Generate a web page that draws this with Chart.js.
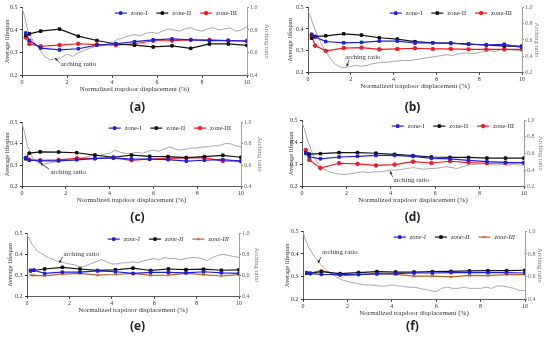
<!DOCTYPE html>
<html>
<head>
<meta charset="utf-8">
<script src="https://cdn.jsdelivr.net/npm/chart.js@4.4.0/dist/chart.umd.min.js"></script>
<style>
  html, body { margin: 0; padding: 0; background: #fff; }
  #wrap { position: relative; width: 550px; height: 340px; overflow: hidden; background: #fff; }
  #wrap canvas { position: absolute; }
</style>
</head>
<body>
<div id="wrap"></div>
<script>
// x positions of the zone markers and of the arching ratio trace
const xPts = [0.17, 0.33, 0.83, 1.67, 2.5, 3.33, 4.17, 5, 5.83, 6.67, 7.5, 8.33, 9.17, 10];
const archX = [0, 0.1, 0.25, 0.5, 0.75, 1, 1.25, 1.5, 1.75, 2, 2.25, 2.5, 2.75, 3, 3.25, 3.5, 3.75, 4, 4.25, 4.5, 4.75,
  5, 5.25, 5.5, 5.75, 6, 6.25, 6.5, 6.75, 7, 7.25, 7.5, 7.75, 8, 8.25, 8.5, 8.75, 9, 9.25, 9.5, 9.75, 10];

const zoneNames = ['zone-I', 'zone-II', 'zone-III'];
const panelLetters = ['(a)', '(b)', '(c)', '(d)', '(e)', '(f)'];
const xTitle = 'Normalized trapdoor displacement (%)';
const yTitle = 'Average lifespan';
const y2Title = 'Arching ratio';

// (a)
const a1 = [0.387, 0.354, 0.321, 0.313, 0.318, 0.334, 0.340, 0.349, 0.357, 0.361, 0.357, 0.354, 0.354, 0.351];
const a2 = [0.376, 0.383, 0.395, 0.404, 0.373, 0.354, 0.339, 0.334, 0.326, 0.331, 0.320, 0.339, 0.339, 0.333];
const a3 = [0.367, 0.339, 0.329, 0.334, 0.340, 0.336, 0.334, 0.340, 0.353, 0.354, 0.357, 0.357, 0.354, 0.353];
const aArch = [0.99, 0.93, 0.80, 0.70, 0.64, 0.57, 0.54, 0.55, 0.56, 0.59, 0.57, 0.60, 0.62, 0.64, 0.655, 0.66, 0.67, 0.69, 0.72, 0.73, 0.75,
  0.76, 0.75, 0.77, 0.78, 0.77, 0.79, 0.81, 0.80, 0.79, 0.81, 0.82, 0.80, 0.79, 0.81, 0.82, 0.80, 0.81, 0.82, 0.79, 0.80, 0.83];

// (b)
const b1 = [0.376, 0.364, 0.343, 0.337, 0.339, 0.345, 0.345, 0.336, 0.337, 0.334, 0.331, 0.327, 0.330, 0.316];
const b2 = [0.358, 0.366, 0.369, 0.378, 0.372, 0.360, 0.354, 0.342, 0.337, 0.336, 0.331, 0.327, 0.322, 0.322];
const b3 = [0.370, 0.324, 0.300, 0.313, 0.315, 0.307, 0.309, 0.312, 0.309, 0.309, 0.307, 0.307, 0.307, 0.307];
const bArch = [0.95, 0.90, 0.78, 0.62, 0.49, 0.39, 0.31, 0.27, 0.26, 0.28, 0.29, 0.28, 0.29, 0.31, 0.32, 0.33, 0.33, 0.34, 0.345, 0.35, 0.35,
  0.36, 0.37, 0.38, 0.39, 0.40, 0.41, 0.42, 0.41, 0.43, 0.44, 0.44, 0.43, 0.45, 0.46, 0.47, 0.46, 0.48, 0.48, 0.48, 0.47, 0.47];

// (c)
const c1 = [0.334, 0.323, 0.320, 0.320, 0.325, 0.331, 0.334, 0.329, 0.328, 0.326, 0.319, 0.323, 0.326, 0.319];
const c2 = [0.330, 0.356, 0.362, 0.361, 0.358, 0.347, 0.337, 0.347, 0.341, 0.340, 0.335, 0.340, 0.346, 0.337];
const c3 = [0.334, 0.326, 0.323, 0.325, 0.332, 0.332, 0.334, 0.323, 0.329, 0.332, 0.334, 0.334, 0.320, 0.319];
const cArch = [0.99, 0.92, 0.78, 0.66, 0.62, 0.61, 0.62, 0.63, 0.64, 0.65, 0.64, 0.65, 0.67, 0.68, 0.69, 0.69, 0.70, 0.71, 0.74, 0.72, 0.71,
  0.71, 0.72, 0.71, 0.73, 0.74, 0.73, 0.75, 0.77, 0.75, 0.74, 0.75, 0.76, 0.76, 0.77, 0.77, 0.78, 0.78, 0.80, 0.80, 0.78, 0.77];

// (d)
const d1 = [0.350, 0.335, 0.326, 0.334, 0.337, 0.341, 0.341, 0.337, 0.328, 0.326, 0.319, 0.313, 0.310, 0.309];
const d2 = [0.353, 0.347, 0.349, 0.354, 0.354, 0.351, 0.346, 0.340, 0.334, 0.332, 0.332, 0.329, 0.329, 0.329];
const d3 = [0.365, 0.321, 0.284, 0.306, 0.303, 0.296, 0.300, 0.313, 0.307, 0.315, 0.309, 0.306, 0.307, 0.307];
const dArch = [0.97, 0.90, 0.76, 0.58, 0.47, 0.41, 0.38, 0.36, 0.35, 0.35, 0.36, 0.37, 0.38, 0.37, 0.38, 0.38, 0.39, 0.40, 0.40, 0.41, 0.42,
  0.43, 0.42, 0.41, 0.42, 0.42, 0.43, 0.44, 0.43, 0.42, 0.44, 0.46, 0.47, 0.47, 0.48, 0.47, 0.46, 0.47, 0.46, 0.47, 0.46, 0.46];

// (e)
const e1 = [0.325, 0.325, 0.310, 0.316, 0.316, 0.322, 0.318, 0.310, 0.315, 0.315, 0.313, 0.318, 0.313, 0.310];
const e2 = [0.322, 0.325, 0.331, 0.339, 0.331, 0.324, 0.327, 0.335, 0.324, 0.331, 0.328, 0.330, 0.325, 0.327];
const e3 = [0.302, 0.301, 0.299, 0.307, 0.310, 0.302, 0.305, 0.310, 0.301, 0.302, 0.310, 0.304, 0.298, 0.304];
const eArch = [0.99, 0.95, 0.89, 0.83, 0.80, 0.77, 0.75, 0.73, 0.72, 0.71, 0.70, 0.68, 0.69, 0.71, 0.73, 0.75, 0.73, 0.71, 0.71, 0.72, 0.72,
  0.73, 0.72, 0.74, 0.75, 0.76, 0.75, 0.77, 0.76, 0.76, 0.75, 0.76, 0.77, 0.77, 0.76, 0.74, 0.77, 0.79, 0.80, 0.79, 0.78, 0.77];

// (f)
const f1 = [0.317, 0.314, 0.311, 0.310, 0.310, 0.313, 0.314, 0.317, 0.317, 0.319, 0.319, 0.319, 0.319, 0.317];
const f2 = [0.317, 0.316, 0.323, 0.314, 0.319, 0.323, 0.321, 0.321, 0.323, 0.324, 0.326, 0.327, 0.327, 0.329];
const f3 = [0.314, 0.317, 0.329, 0.304, 0.311, 0.314, 0.311, 0.303, 0.303, 0.300, 0.307, 0.306, 0.310, 0.310];
const fArch = [0.99, 0.93, 0.86, 0.78, 0.72, 0.67, 0.63, 0.60, 0.575, 0.56, 0.55, 0.54, 0.53, 0.53, 0.525, 0.52, 0.52, 0.53, 0.52, 0.52, 0.51,
  0.51, 0.50, 0.49, 0.48, 0.47, 0.50, 0.51, 0.50, 0.50, 0.51, 0.50, 0.50, 0.50, 0.51, 0.50, 0.52, 0.52, 0.51, 0.50, 0.48, 0.48];

const serif = '"Liberation Serif", "Times New Roman", serif';
const red = '#ee1c24', brown = '#b8622a';

// layout of each panel (page pixels) and where the "arching ratio" note sits (data units)
const panels = [
  { data: [a1, a2, a3, aArch], x0: 0,   plot: { l: 22,  r: 247, t: 6,   b: 76 },  labelY: 108, ytx: 7,  rtx: 8,  rMin: 0.4, c3: red,   m3: 'circle', italic: false,
    note: { tx: 1.72, ty: 0.249, fx: 1.68, fy: 0.256, px: 1.47, py: 0.277 } },
  { data: [b1, b2, b3, bArch], x0: 275, plot: { l: 308, r: 522, t: 6,   b: 73 },  labelY: 108, ytx: 15, rtx: 13, rMin: 0.2, c3: red,   m3: 'circle', italic: false,
    note: { tx: 1.73, ty: 0.272, fx: 1.92, fy: 0.258, px: 1.81, py: 0.229 } },
  { data: [c1, c2, c3, cArch], x0: 0,   plot: { l: 22,  r: 241, t: 121, b: 187 }, labelY: 218, ytx: 7,  rtx: 15, rMin: 0.4, c3: red,   m3: 'circle', italic: false,
    note: { tx: 1.30, ty: 0.270, fx: 1.24, fy: 0.282, px: 0.84, py: 0.309 } },
  { data: [d1, d2, d3, dArch], x0: 275, plot: { l: 302, r: 524, t: 119, b: 187 }, labelY: 218, ytx: 16, rtx: 9,  rMin: 0.2, c3: red,   m3: 'circle', italic: false,
    note: { tx: 4.12, ty: 0.232, fx: 4.08, fy: 0.245, px: 3.97, py: 0.270 } },
  { data: [e1, e2, e3, eArch], x0: 0,   plot: { l: 27,  r: 239, t: 232, b: 297 }, labelY: 327, ytx: 10, rtx: 18, rMin: 0.4, c3: brown, m3: 'crossRot', italic: true,
    note: { tx: 1.72, ty: 0.403, fx: 1.68, fy: 0.388, px: 1.53, py: 0.359 } },
  { data: [f1, f2, f3, fArch], x0: 275, plot: { l: 303, r: 525, t: 230, b: 300 }, labelY: 327, ytx: 12, rtx: 10, rMin: 0.4, c3: brown, m3: 'crossRot', italic: true,
    note: { tx: 0.86, ty: 0.406, fx: 0.80, fy: 0.386, px: 0.68, py: 0.360 } }
];

const toPoints = (xs, ys) => xs.map((x, i) => ({ x: x, y: ys[i] }));

function drawMark(ctx, style, x, y, color) {
  ctx.fillStyle = color;
  ctx.strokeStyle = color;
  ctx.lineWidth = 1;
  if (Chart.helpers && Chart.helpers.drawPoint) {
    Chart.helpers.drawPoint(ctx, { pointStyle: style, radius: 1.8, rotation: 0, borderWidth: 1 }, x, y);
  } else {
    ctx.fillRect(x - 1.6, y - 1.6, 3.2, 3.2);
  }
}

// legend drawn inside the plot, top right
const zoneLegend = {
  id: 'zoneLegend',
  afterDraw(chart, args, opts) {
    const { ctx, chartArea } = chart;
    const items = chart.data.datasets.slice(0, 3);
    ctx.save();
    ctx.font = (opts.italic ? 'italic ' : '') + '6.5px ' + serif;
    const widths = items.map(d => 16 + ctx.measureText(d.label).width);
    const total = widths.reduce((s, w) => s + w, 0) + 9 * (items.length - 1);
    let x = chartArea.right - 10 - total;
    const y = chartArea.top + 6;
    items.forEach((d, i) => {
      ctx.strokeStyle = d.borderColor;
      ctx.lineWidth = 1.2;
      ctx.beginPath();
      ctx.moveTo(x, y);
      ctx.lineTo(x + 12, y);
      ctx.stroke();
      drawMark(ctx, d.pointStyle, x + 6, y, d.borderColor);
      ctx.fillStyle = '#333';
      ctx.textBaseline = 'middle';
      ctx.textAlign = 'left';
      ctx.fillText(d.label, x + 16, y + 0.5);
      x += widths[i] + 9;
    });
    ctx.restore();
  }
};

// "arching ratio" label with a small arrow onto the grey trace
const archNote = {
  id: 'archNote',
  afterDraw(chart, args, o) {
    const { ctx, scales } = chart;
    const X = v => scales.x.getPixelForValue(v);
    const Y = v => scales.y.getPixelForValue(v);
    ctx.save();
    ctx.font = '7px ' + serif;
    ctx.fillStyle = '#333';
    ctx.textBaseline = 'middle';
    ctx.fillText('arching ratio', X(o.tx), Y(o.ty));
    const x1 = X(o.fx), y1 = Y(o.fy), x2 = X(o.px), y2 = Y(o.py);
    ctx.strokeStyle = '#222';
    ctx.lineWidth = 0.8;
    ctx.beginPath();
    ctx.moveTo(x1, y1);
    ctx.lineTo(x2, y2);
    ctx.stroke();
    const ang = Math.atan2(y2 - y1, x2 - x1);
    ctx.beginPath();
    ctx.moveTo(x2, y2);
    ctx.lineTo(x2 - 3 * Math.cos(ang - 0.45), y2 - 3 * Math.sin(ang - 0.45));
    ctx.lineTo(x2 - 3 * Math.cos(ang + 0.45), y2 - 3 * Math.sin(ang + 0.45));
    ctx.closePath();
    ctx.fillStyle = '#222';
    ctx.fill();
    ctx.restore();
  }
};

const wrap = document.getElementById('wrap');

panels.forEach((p, k) => {
  const cv = document.createElement('canvas');
  const top = p.plot.t - 5;
  const h = Math.round(p.labelY + 8.2 - top);
  cv.width = 275;
  cv.height = h;
  cv.style.left = p.x0 + 'px';
  cv.style.top = top + 'px';
  cv.style.width = '275px';
  cv.style.height = h + 'px';
  wrap.appendChild(cv);

  const titlePad = p.labelY - 7.2 - (p.plot.b + 18);
  const leftW = p.plot.l - p.x0;
  const rightW = p.x0 + 275 - p.plot.r;
  const colors = ['#1f1fd6', '#111111', p.c3];
  const marks = ['rect', 'rect', p.m3];

  const datasets = zoneNames.map((name, i) => ({
    label: name,
    data: toPoints(xPts, p.data[i]),
    yAxisID: 'y',
    borderColor: colors[i],
    backgroundColor: colors[i],
    borderWidth: 1.2,
    pointStyle: marks[i],
    pointRadius: 1.8,
    pointBorderWidth: 1,
    tension: 0
  }));
  datasets.push({
    label: 'arching ratio',
    data: toPoints(archX, p.data[3]),
    yAxisID: 'y2',
    borderColor: '#a9a9a9',
    borderWidth: 1,
    pointRadius: 0,
    tension: 0
  });

  new Chart(cv, {
    type: 'line',
    data: { datasets: datasets },
    options: {
      responsive: false,
      animation: false,
      devicePixelRatio: 1,
      layout: { padding: { top: 5, left: 0, right: 0, bottom: 0 } },
      scales: {
        x: {
          type: 'linear', min: 0, max: 10,
          ticks: { stepSize: 2, font: { family: serif, size: 6 }, color: '#333', padding: 1, maxRotation: 0 },
          grid: { drawOnChartArea: false, tickLength: 2, color: '#333' },
          border: { color: '#333', width: 0.8 },
          title: { display: true, text: xTitle, font: { family: serif, size: 7 }, color: '#333', padding: { top: 0, bottom: 0 } },
          afterFit: s => { s.height = 18; }
        },
        y: {
          position: 'left', min: 0.2, max: 0.5,
          ticks: { stepSize: 0.1, font: { family: serif, size: 6 }, color: '#333', padding: 2.5, callback: v => v.toFixed(1) },
          grid: { drawOnChartArea: false, tickLength: 2, color: '#333' },
          border: { color: '#333', width: 0.8 },
          title: { display: true, text: yTitle, font: { family: serif, size: 6.5 }, color: '#333', padding: { top: p.ytx - 3.9, bottom: 0 } },
          afterFit: s => { s.width = leftW; }
        },
        y2: {
          position: 'right', min: p.rMin, max: 1.0,
          ticks: { stepSize: 0.2, font: { family: serif, size: 6 }, color: '#666', padding: 1, callback: v => v.toFixed(1) },
          grid: { drawOnChartArea: false, tickLength: 2, color: '#888' },
          border: { color: '#888', width: 0.8 },
          title: { display: true, text: y2Title, font: { family: serif, size: 6.5 }, color: '#777', padding: { top: p.rtx - 3.9, bottom: 0 } },
          afterFit: s => { s.width = rightW; }
        }
      },
      plugins: {
        legend: { display: false },
        tooltip: { enabled: false },
        title: {
          display: true, text: panelLetters[k], position: 'bottom',
          font: { family: '"Open Sans", "Noto Sans", sans-serif', size: 12 }, color: '#222',
          padding: { top: titlePad, bottom: 1 }
        },
        zoneLegend: { italic: p.italic },
        archNote: p.note
      }
    },
    plugins: [zoneLegend, archNote]
  });
});
</script>
</body>
</html>
